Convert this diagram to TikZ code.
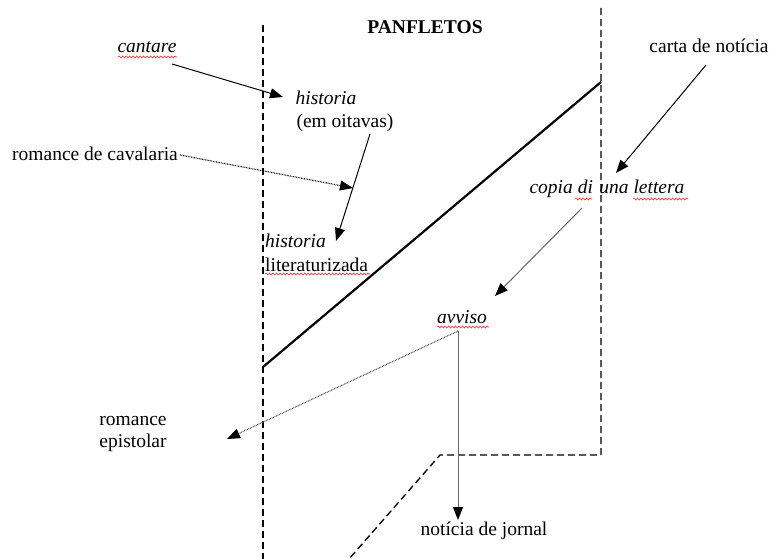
\documentclass[tikz,border=0pt]{standalone}
\usepackage{fontspec}
\setmainfont{Liberation Serif}
\usetikzlibrary{arrows.meta,decorations.pathmorphing}
\tikzset{
  lbl/.style={inner sep=0pt, font=\fontsize{19.5}{22}\selectfont, align=center},
  ilbl/.style={lbl, font=\fontsize{19.5}{22}\selectfont\itshape},
  arr/.style={-{Triangle[length=13pt,width=10pt]}, line width=1pt},
  garr/.style={draw=black!60, line width=1pt, -{Triangle[length=13pt,width=10pt,color=black]}},
  darr/.style={-{Triangle[length=13pt,width=10pt,color=black]}, line width=1.1pt, dash pattern=on 0.8pt off 0.8pt},
  bound/.style={dash pattern=on 7pt off 4pt, line width=1.3pt},
  wavy/.style={draw=red!85, line width=0.6pt, decorate, decoration={snake, amplitude=1pt, segment length=3.5pt}}
}
\begin{document}
\begin{tikzpicture}[x=1pt,y=-1pt]
\path[use as bounding box] (0,0) rectangle (773,559);
% boundaries
\coordinate (LT) at (263,25);
\coordinate (LB) at (263,559);
\coordinate (RT) at (601,8);
\coordinate (RC) at (601,455);
\coordinate (MC) at (440,455);
\coordinate (DB) at (349,559);
\draw[bound] (LT) -- (LB);
\draw[bound] (RT) -- (RC) -- (MC) -- (DB);
% thick diagonal
\coordinate (TA) at (263,367);
\coordinate (TB) at (601,82);
\draw[line width=2.2pt] (TA) -- (TB);
% labels
\node[lbl, font=\fontsize{19.5}{22}\selectfont\bfseries] (pan) at (425,27) {PANFLETOS};
\node[ilbl] (cant) at (147,47) {cantare};
\node[ilbl] (hist1) at (326,98) {historia};
\node[lbl] (oit) at (345,123) {(em oitavas)};
\node[lbl] (rcav) at (95,154) {romance de cavalaria};
\node[ilbl, anchor=west] (hist2) at (265,241) {historia};
\node[lbl, anchor=west] (lit) at (265,265) {literaturizada};
\node[lbl] (carta) at (709,46) {carta de notícia};
\node[ilbl] (copia) at (607,189) {copia di\,\,una lettera};
\node[ilbl] (avv) at (462,317) {avviso};
\node[lbl] (rom1) at (133,421) {romance};
\node[lbl] (rom2) at (133,443) {epistolar};
\node[lbl] (njor) at (484,531) {notícia de jornal};
% spell-check underlines
\draw[wavy] (118,57) -- (177,57);
\draw[wavy] (265,274) -- (370,274);
\draw[wavy] (437,327) -- (489,327);
\draw[wavy] (575,199) -- (592,199);
\draw[wavy] (633,199) -- (688,199);
% arrows
\coordinate (c1) at (172,64);
\coordinate (c2) at (283,97);
\draw[arr] (c1) -- (c2);
\coordinate (o1) at (370,134);
\coordinate (o2) at (336,241);
\draw[arr] (o1) -- (o2);
\coordinate (r1) at (180,155);
\coordinate (r2) at (353,188);
\draw[darr] (r1) -- (r2);
\coordinate (k1) at (706,65);
\coordinate (k2) at (616,173);
\draw[arr] (k1) -- (k2);
\coordinate (p1) at (582,208);
\coordinate (p2) at (495,296);
\draw[garr] (p1) -- (p2);
\coordinate (a0) at (458,331);
\coordinate (a1) at (227,439);
\coordinate (a2) at (458,520);
\draw[darr, draw=black!70] (a0) -- (a1);
\draw[garr] (a0) -- (a2);
\end{tikzpicture}
\end{document}
